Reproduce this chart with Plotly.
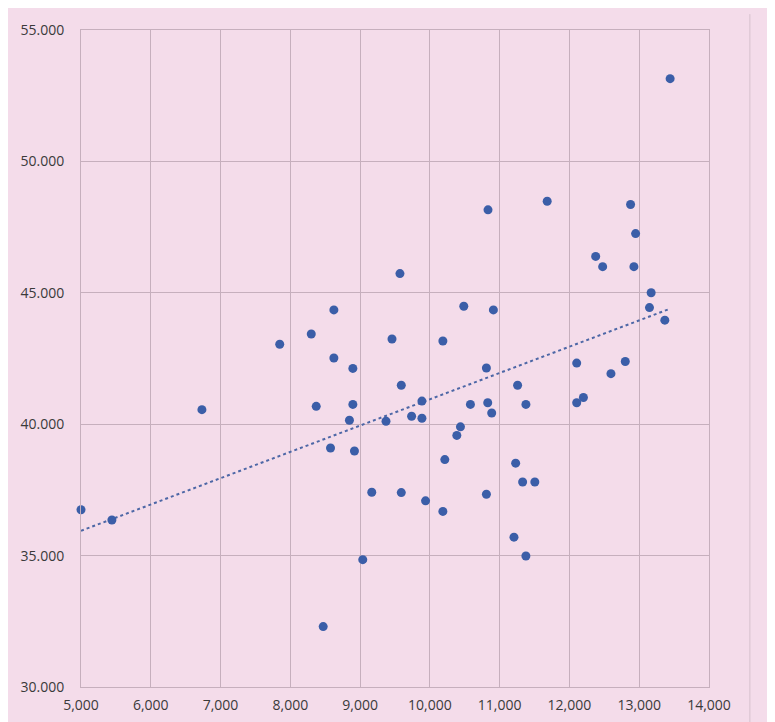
import numpy as np
import plotly.graph_objects as go

# ---- data ----
x_values = [5000, 5443, 6733, 7848, 8300, 8371, 8471, 8576, 8624, 8624,
            8847, 8896, 8896, 8919, 9038, 9167, 9371, 9457, 9571, 9590,
            9590, 9738, 9886, 9886, 9938, 10186, 10186, 10214, 10386, 10438,
            10486, 10581, 10810, 10810, 10829, 10833, 10886, 10910, 11205, 11229,
            11257, 11329, 11376, 11376, 11504, 11681, 12104, 12104, 12200, 12376,
            12476, 12595, 12800, 12876, 12924, 12948, 13147, 13171, 13367, 13443]
y_values = [36746, 36354, 40554, 43043, 43431, 40679, 32300, 39095, 44348, 42520,
            40151, 42123, 40754, 38982, 34846, 37410, 40113, 43240, 45732, 41481,
            37398, 40302, 40880, 40226, 37085, 43167, 36682, 38654, 39574, 39899,
            44487, 40754, 42137, 37334, 40818, 48156, 40426, 44348, 35701, 38518,
            41481, 37802, 40754, 34985, 37802, 48484, 42326, 40818, 41018, 46385,
            45995, 41923, 42387, 48360, 45995, 47252, 44438, 45003, 43959, 53148]

x_tick_vals = [5000, 6000, 7000, 8000, 9000, 10000, 11000, 12000, 13000, 14000]
x_tick_text = ["5,000", "6,000", "7,000", "8,000", "9,000", "10,000", "11,000",
               "12,000", "13,000", "14,000"]
y_tick_vals = [30000, 35000, 40000, 45000, 50000, 55000]
y_tick_text = ["30.000", "35.000", "40.000", "45.000", "50.000", "55.000"]

# ---- linear trend line (least squares) ----
xa = np.array(x_values, dtype=float)
ya = np.array(y_values, dtype=float)
slope, intercept = np.polyfit(xa, ya, 1)
tx = np.array([xa.min(), xa.max()])
ty = slope * tx + intercept

BG = "#f4dcea"
GRID = "#c6afbd"

fig = go.Figure()
fig.add_trace(go.Scatter(
    x=tx, y=ty, mode="lines",
    line=dict(color="#4d67a6", width=2, dash="dot"),
    hoverinfo="skip", showlegend=False))
fig.add_trace(go.Scatter(
    x=x_values, y=y_values, mode="markers",
    marker=dict(color="#3b5ea8", size=9, line=dict(width=0)),
    cliponaxis=False, showlegend=False))

font = dict(family="Open Sans, Liberation Sans, sans-serif", size=14, color="#3a3a3a")

fig.update_xaxes(
    range=[5000, 14000], tickmode="array", tickvals=x_tick_vals, ticktext=x_tick_text,
    showgrid=True, gridcolor=GRID, gridwidth=1, zeroline=False,
    showline=True, linecolor=GRID, linewidth=1, mirror=True,
    ticks="", tickfont=font, ticklabelstandoff=5)
fig.update_yaxes(
    range=[30000, 55000], tickmode="array", tickvals=y_tick_vals, ticktext=y_tick_text,
    showgrid=True, gridcolor=GRID, gridwidth=1, zeroline=False,
    showline=True, linecolor=GRID, linewidth=1, mirror=True,
    ticks="", tickfont=font, ticklabelstandoff=13)

# page has an 8px body offset; plot area (figure px): x 71..701, y 16..679
L, T, W, H = 71, 16, 630, 663

def px(p):
    return (p - L) / W

def py(p):
    return (T + H - p) / H

fig.update_layout(
    width=775, height=722,
    margin=dict(l=L, r=775 - L - W, t=T, b=722 - T - H, pad=0),
    paper_bgcolor=BG, plot_bgcolor=BG,
    shapes=[
        dict(type="line", xref="paper", yref="paper", x0=px(742), x1=px(742), y0=py(722), y1=py(0),
             line=dict(color="#d6c2cd", width=1)),
    ],
)

fig.write_html("out.html")
